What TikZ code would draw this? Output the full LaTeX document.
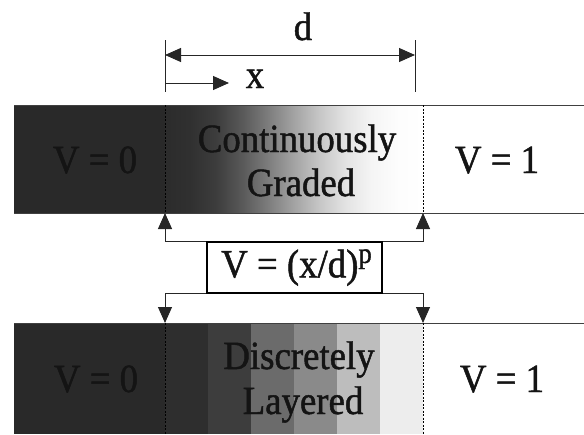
\documentclass[tikz,border=0pt]{standalone}
\usepackage{fontspec}
\setmainfont{Liberation Serif}
\newfontfamily\tfont[FakeStretch=0.92,FakeBold=1.2]{Liberation Serif}
\usetikzlibrary{arrows.meta}
\pgfdeclarehorizontalshading{gradshade}{100bp}{color(0bp)=(black!83); color(25bp)=(black!83); color(30bp)=(black!81); color(35bp)=(black!76); color(40bp)=(black!65); color(45bp)=(black!51); color(50bp)=(black!36); color(55bp)=(black!22); color(60bp)=(black!11); color(65bp)=(black!4); color(70bp)=(black!1); color(75bp)=(white); color(100bp)=(white)}
\begin{document}
\begin{tikzpicture}[x=1pt,y=-1pt,
  every node/.style={inner sep=0pt},
  lbl/.style={font=\tfont\fontsize{40}{44}\selectfont, anchor=base, text=black!92},
  conn/.style={draw=black!85, line width=0.9pt},
  arrowtip/.style={-{Triangle[length=16pt,width=14pt]}},
  dashv/.style={draw=black, line width=0.7pt, dash pattern=on 2pt off 1.5pt},
  edge/.style={draw=black!75, line width=1pt}]
\useasboundingbox (0,0) rectangle (584,434);
% ---- top bar
\fill[black!84] (14,105) rectangle (165,213);
\shade[shading=gradshade] (165,105) rectangle (423,213);
\draw[edge] (14,105) -- (584,105);
\draw[edge] (14,213) -- (584,213);
\draw[dashv] (165,105) -- (165,213);
\draw[dashv] (423,105) -- (423,213);
% ---- bottom bar
\fill[black!84] (14,323) rectangle (165,434);
\fill[black!82] (165,323) rectangle (208,434);
\fill[black!76] (208,323) rectangle (251,434);
\fill[black!58] (251,323) rectangle (294,434);
\fill[black!46] (294,323) rectangle (337,434);
\fill[black!26] (337,323) rectangle (380,434);
\fill[black!7]  (380,323) rectangle (423,434);
\draw[edge] (14,323) -- (584,323);
\draw[dashv] (165,323) -- (165,434);
\draw[dashv] (423,323) -- (423,434);
% ---- coordinates
\coordinate (tA) at (165,213);
\coordinate (tB) at (423,213);
\coordinate (bA) at (165,323);
\coordinate (bB) at (423,323);
\coordinate (kL1) at (165,40);
\coordinate (kL2) at (165,92);
\coordinate (kR1) at (415,40);
\coordinate (kR2) at (415,92);
\coordinate (d1) at (165,55);
\coordinate (d2) at (415,55);
\coordinate (x1) at (165,83);
\coordinate (x2) at (229,83);
% ---- labels
\node[lbl] (t0) at (95,173) {V = 0};
\node[lbl] (t1) at (497,173) {V = 1};
\node[lbl] (cg1) at (297,152) {Continuously};
\node[lbl] (cg2) at (301,196) {Graded};
\node[lbl] (b0) at (96,392) {V = 0};
\node[lbl] (b1) at (502,392) {V = 1};
\node[lbl] (dl1) at (299,369) {Discretely};
\node[lbl] (dl2) at (303,414) {Layered};
\node[lbl] (dlab) at (303,40) {d};
\node[lbl] (xlab) at (255,88) {x};
% ---- box
\node[draw=black, line width=1.8pt, minimum width=175pt, minimum height=51pt,
      font=\tfont\fontsize{40}{44}\selectfont, text=black!92] (box) at (294.5,267.5)
      {\hspace{4pt}V = (x/d)\raisebox{0.36em}{\fontsize{29}{29}\selectfont p}};
% ---- connectors
\draw[conn, arrowtip] (box.north west) -| (tA);
\draw[conn, arrowtip] (box.north east) -| (tB);
\draw[conn, arrowtip] (box.south west) -| (bA);
\draw[conn, arrowtip] (box.south east) -| (bB);
% ---- dimensions
\draw[conn] (kL1) -- (kL2);
\draw[conn] (kR1) -- (kR2);
\draw[conn, {Triangle[length=16pt,width=14pt]}-{Triangle[length=16pt,width=14pt]}] (d1) -- (d2);
\draw[conn, arrowtip] (x1) -- (x2);
\end{tikzpicture}
\end{document}
